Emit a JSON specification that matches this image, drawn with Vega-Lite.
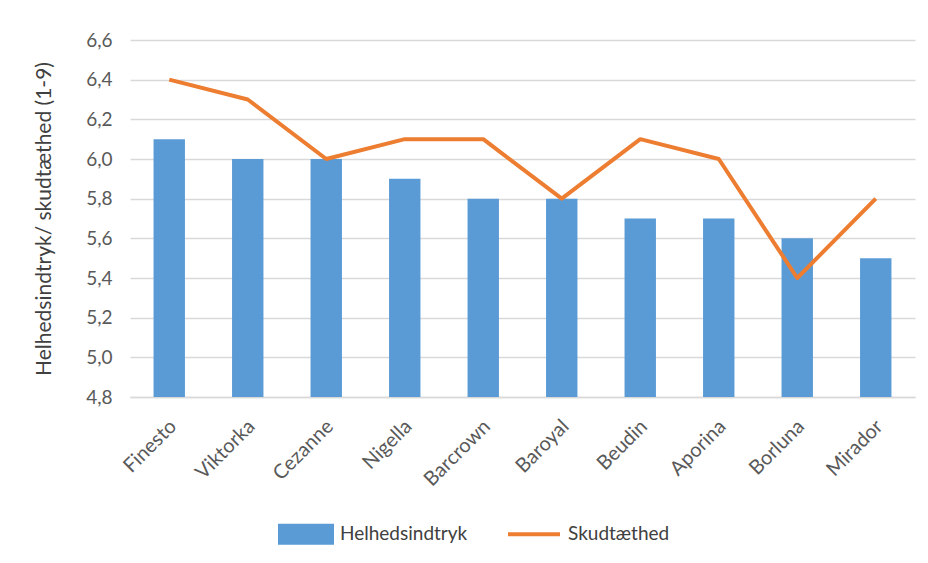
{
  "$schema": "https://vega.github.io/schema/vega-lite/v6.json",
  "width": 785,
  "height": 357,
  "autosize": {"type": "none"},
  "padding": {"left": 130, "top": 40, "right": 13, "bottom": 166},
  "background": "white",
  "config": {
    "font": "Lato",
    "view": {"stroke": null}
  },
  "data": {
    "values": [
      {"sort": "Finesto", "helhedsindtryk": 6.1, "skudtaethed": 6.4},
      {"sort": "Viktorka", "helhedsindtryk": 6.0, "skudtaethed": 6.3},
      {"sort": "Cezanne", "helhedsindtryk": 6.0, "skudtaethed": 6.0},
      {"sort": "Nigella", "helhedsindtryk": 5.9, "skudtaethed": 6.1},
      {"sort": "Barcrown", "helhedsindtryk": 5.8, "skudtaethed": 6.1},
      {"sort": "Baroyal", "helhedsindtryk": 5.8, "skudtaethed": 5.8},
      {"sort": "Beudin", "helhedsindtryk": 5.7, "skudtaethed": 6.1},
      {"sort": "Aporina", "helhedsindtryk": 5.7, "skudtaethed": 6.0},
      {"sort": "Borluna", "helhedsindtryk": 5.6, "skudtaethed": 5.4},
      {"sort": "Mirador", "helhedsindtryk": 5.5, "skudtaethed": 5.8}
    ]
  },
  "encoding": {
    "x": {
      "field": "sort",
      "type": "nominal",
      "sort": null,
      "scale": {"paddingInner": 0.6, "paddingOuter": 0.3},
      "axis": {
        "title": null,
        "labelAngle": -45,
        "labelAlign": "right",
        "labelBaseline": "middle",
        "labelPadding": 26,
        "labelOffset": 4,
        "labelFontSize": 20,
        "labelColor": "#595959",
        "labelOverlap": false,
        "domain": true,
        "domainColor": "#d9d9d9",
        "domainWidth": 1.5,
        "ticks": false,
        "grid": false
      }
    }
  },
  "layer": [
    {
      "mark": {"type": "bar", "color": "#5b9bd5"},
      "encoding": {
        "y": {
          "field": "helhedsindtryk",
          "type": "quantitative",
          "scale": {"domain": [4.8, 6.6], "zero": false, "nice": false},
          "axis": {
            "values": [4.8, 5.0, 5.2, 5.4, 5.6, 5.8, 6.0, 6.2, 6.4, 6.6],
            "labelExpr": "replace(format(datum.value, '.1f'), '.', ',')",
            "labelFontSize": 19,
            "labelColor": "#595959",
            "labelPadding": 18,
            "labelOverlap": false,
            "domain": false,
            "ticks": false,
            "grid": true,
            "gridColor": "#d9d9d9",
            "gridWidth": 1.5,
            "title": "Helhedsindtryk/ skudtæthed (1-9)",
            "titleFontSize": 21,
            "titleFontWeight": "normal",
            "titleColor": "#404040",
            "titlePadding": 31
          }
        },
        "y2": {"datum": 4.8},
        "color": {
          "datum": "Helhedsindtryk",
          "type": "nominal",
          "scale": {"domain": ["Helhedsindtryk", "Skudtæthed"], "range": ["#5b9bd5", "#ed7d31"]},
          "legend": {
            "orient": "none",
            "legendX": 148,
            "legendY": 466,
            "direction": "horizontal",
            "title": null,
            "symbolSize": 2704,
            "labelFontSize": 19,
            "labelColor": "#404040",
            "labelOffset": 6,
            "columnPadding": 32,
            "encode": {
              "symbols": {
                "update": {
                  "shape": {"signal": "datum.value === 'Helhedsindtryk' ? 'M-1,-0.33H1V0.33H-1Z' : 'M-1,-0.33L-1,-0.33M-1,0L1,0M-1,0.33L-1,0.33'"},
                  "fill": {"signal": "datum.value === 'Helhedsindtryk' ? '#5b9bd5' : 'transparent'"},
                  "stroke": {"signal": "datum.value === 'Helhedsindtryk' ? 'transparent' : '#ed7d31'"},
                  "strokeWidth": {"value": 4},
                  "opacity": {"value": 1}
                }
              }
            }
          }
        }
      }
    },
    {
      "mark": {"type": "line", "strokeWidth": 4, "strokeJoin": "round"},
      "encoding": {
        "y": {
          "field": "skudtaethed",
          "type": "quantitative",
          "axis": {
            "values": [4.8, 5.0, 5.2, 5.4, 5.6, 5.8, 6.0, 6.2, 6.4, 6.6],
            "labelExpr": "replace(format(datum.value, '.1f'), '.', ',')",
            "labelFontSize": 19,
            "labelColor": "#595959",
            "labelPadding": 18,
            "labelOverlap": false,
            "domain": false,
            "ticks": false,
            "grid": true,
            "gridColor": "#d9d9d9",
            "gridWidth": 1.5,
            "title": "Helhedsindtryk/ skudtæthed (1-9)",
            "titleFontSize": 21,
            "titleFontWeight": "normal",
            "titleColor": "#404040",
            "titlePadding": 31
          }
        },
        "color": {"datum": "Skudtæthed", "type": "nominal"}
      }
    }
  ]
}
